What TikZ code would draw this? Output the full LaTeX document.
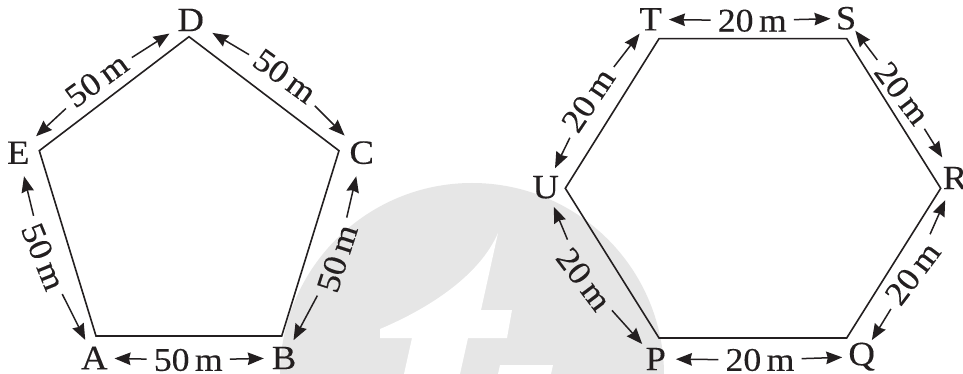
\documentclass[tikz,border=0pt]{standalone}
\usepackage{fontspec}
\setmainfont[FakeStretch=1.08,FakeBold=0.25]{Liberation Serif}
\usetikzlibrary{arrows.meta}
\definecolor{ink}{HTML}{231F20}
\definecolor{wm}{HTML}{E6E6E6}
\tikzset{
  x=1pt,y=-1pt,
  outline/.style={draw=ink,line width=1.6pt,line join=miter},
  lt/.style={circle,inner sep=0pt,minimum size=#1*2pt,text=ink,font=\fontsize{34}{34}\selectfont},
  lt/.default=22,
  dist/.style={inner xsep=#1,inner ysep=8pt,text=ink,font=\fontsize{33}{33}\selectfont},
  dist/.default=7pt,
  arr/.style={draw=ink,line width=1.5pt,-{Stealth[length=16pt,width=12.5pt,inset=1.5pt]}},
}
\newcommand{\mm}[1]{#1\,m}
\begin{document}
\begin{tikzpicture}
\clip (0,0) rectangle (963,374);
\fill[white] (0,0) rectangle (963,374);
% watermark
\fill[wm] (472,375) circle [radius=192];
\fill[white] (380,329) .. controls (430,308) and (480,275) .. (498,233) -- (481,310) -- (512,310) -- (507,338) -- (468,338) -- (460,374) -- (404,374) -- (412,338) -- (380,338) -- cycle;
\fill[white] (500,365) -- (553,365) -- (551,374) -- (498,374) -- cycle;
% pentagon
\coordinate (va) at (96,336);
\coordinate (vb) at (281.7,336);
\coordinate (vc) at (339,150.7);
\coordinate (vd) at (189,36.7);
\coordinate (ve) at (39.3,150.7);
\draw[outline] (va) -- (vb) -- (vc) -- (vd) -- (ve) -- cycle;
% hexagon
\coordinate (vp) at (659,338);
\coordinate (vq) at (846.7,338);
\coordinate (vr) at (940.7,188.3);
\coordinate (vs) at (846.7,38.7);
\coordinate (vt) at (659,38.7);
\coordinate (vu) at (565.3,188.3);
\draw[outline] (vp) -- (vq) -- (vr) -- (vs) -- (vt) -- (vu) -- cycle;
% corner letters
\node[lt=20] (A) at (94.3,358) {A};
\node[lt=20] (B) at (284,358) {B};
\node[lt=24] (C) at (361.7,152.7) {C};
\node[lt=25] (D) at (190.7,20) {D};
\node[lt=24] (E) at (18.3,152.7) {E};
\node[lt=18] (T) at (650.7,19.3) {T};
\node[lt=10] (S) at (846,18.3) {S};
\node[lt=24] (R) at (955,178) {R};
\node[lt=15] (Q) at (861.7,356.7) {Q};
\node[lt=20] (P) at (655.7,359) {P};
\node[lt=21] (U) at (545.7,187.3) {U};
% distance labels
\node[dist,rotate=-68] (ea) at (43.5,256.7) {\mm{50}};
\node[dist] (ab) at (188.3,360) {\mm{50}};
\node[dist,rotate=72] (bc) at (337.3,258.3) {\mm{50}};
\node[dist,rotate=-36] (cd) at (285,76) {\mm{50}};
\node[dist,rotate=36] (de) at (96.7,80) {\mm{50}};
\node[dist] (ts) at (752.3,20.7) {\mm{20}};
\node[dist,rotate=-53] (sr) at (902.3,93.3) {\mm{20}};
\node[dist,rotate=53] (rq) at (912.7,273.3) {\mm{20}};
\node[dist] (qp) at (760,360) {\mm{20}};
\node[dist,rotate=-53] (pu) at (584,279.3) {\mm{20}};
\node[dist,rotate=56] (ut) at (588.3,100) {\mm{20}};
% connectors
\draw[arr] (ea) -- (E); \draw[arr] (ea) -- (A);
\draw[arr] (ab) -- (A); \draw[arr] (ab) -- (B);
\draw[arr] (bc) -- (B); \draw[arr] (bc) -- (C);
\draw[arr] (cd) -- (C); \draw[arr] (cd) -- (D);
\draw[arr] (de) -- (D); \draw[arr] (de) -- (E);
\draw[arr] (ts) -- (T); \draw[arr] (ts) -- (S);
\draw[arr] (sr) -- (S); \draw[arr] (sr) -- (R);
\draw[arr] (rq) -- (R); \draw[arr] (rq) -- (Q);
\draw[arr] (qp) -- (Q); \draw[arr] (qp) -- (P);
\draw[arr] (pu) -- (P); \draw[arr] (pu) -- (U);
\draw[arr] (ut) -- (U); \draw[arr] (ut) -- (T);
\end{tikzpicture}
\end{document}
